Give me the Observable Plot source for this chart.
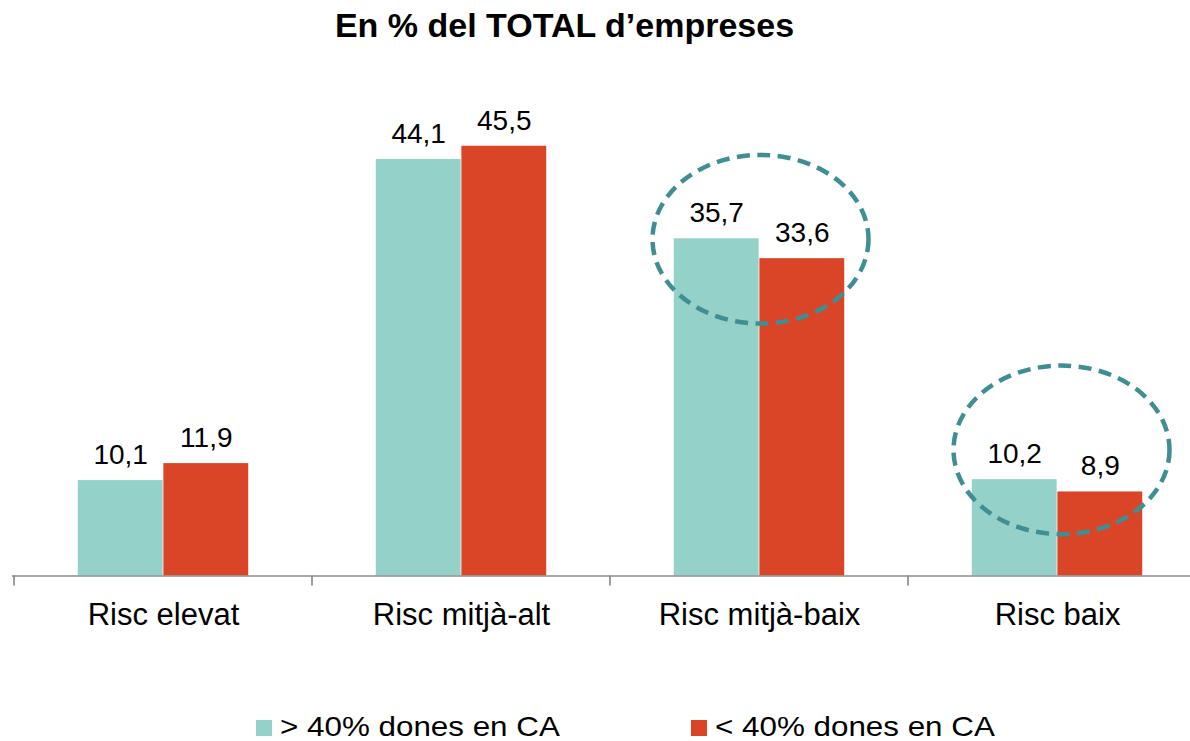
<!DOCTYPE html>
<html><head><meta charset="utf-8">
<script src="https://cdn.jsdelivr.net/npm/d3@7"></script>
<script src="https://cdn.jsdelivr.net/npm/@observablehq/plot@0.6"></script>
<style>
body{margin:0;background:#fff;font-family:"Liberation Sans",Arial,sans-serif;}
#title{width:1129px;height:50px;line-height:50px;text-align:center;font-weight:bold;font-size:34px;color:#000;white-space:nowrap}
#chart{height:650px}
#legend{position:relative;height:41px;width:1190px}
.sw{position:absolute;top:20px;width:16px;height:16px}
.lt{position:absolute;top:12.8px;font-size:28px;line-height:28px;color:#000;white-space:nowrap;transform:scaleX(1.12);transform-origin:left center}
</style></head><body>
<div id="title">En % del TOTAL d’empreses</div>
<div id="chart"></div>
<div id="legend"></div>
<script>
// ---- data ----
const categories = ["Risc elevat", "Risc mitjà-alt", "Risc mitjà-baix", "Risc baix"];
const seriesNames = ["> 40% dones en CA", "< 40% dones en CA"];
const valuesHigh = [10.1, 44.1, 35.7, 10.2];   // > 40% dones en CA
const valuesLow  = [11.9, 45.5, 33.6, 8.9];    // < 40% dones en CA
const highlightedCats = ["Risc mitjà-baix", "Risc baix"];
const highlightCenterValues = [35.6, 13.3];

// ---- styles ----
const colors = ["#94D1C9", "#DA4528"];
const fontFamily = '"Liberation Sans", Arial, sans-serif';
const W = 1190, H = 650;
const xRange = [12, 1207];
const bw = (xRange[1] - xRange[0]) / categories.length;
const barW = 85.6;
const fmt = d => d.toFixed(1).replace(".", ",");

const dataHigh = categories.map((c, i) => ({cat: c, value: valuesHigh[i]}));
const dataLow = categories.map((c, i) => ({cat: c, value: valuesLow[i]}));

const svg = Plot.plot({
  width: W,
  height: H,
  marginLeft: xRange[0],
  marginRight: 0,
  marginTop: 53.25,
  marginBottom: 124.5,
  style: {fontFamily, background: "#fff", overflow: "visible"},
  x: {domain: categories, range: xRange, padding: 0, axis: null},
  y: {domain: [0, 50], axis: null},
  marks: [
    Plot.barY(dataHigh, {x: "cat", y: "value", fill: colors[0], insetLeft: bw / 2 - barW, insetRight: bw / 2}),
    Plot.barY(dataLow, {x: "cat", y: "value", fill: colors[1], insetLeft: bw / 2, insetRight: bw / 2 - barW}),
    Plot.ruleY([0], {stroke: "#8c8c8c", strokeWidth: 1.7}),
    Plot.text(dataHigh, {x: "cat", y: "value", text: d => fmt(d.value), dx: -barW / 2, dy: -25.5, fontSize: 28, fill: "#000"}),
    Plot.text(dataLow, {x: "cat", y: "value", text: d => fmt(d.value), dx: barW / 2, dy: -25.5, fontSize: 28, fill: "#000"}),
    Plot.text(categories, {x: d => d, y: () => 0, text: d => d, dy: 38.6, fontSize: 31, fill: "#000"})
  ]
});

// axis ticks at category boundaries + dashed highlight ellipses, placed via the plot's scales
const xs = svg.scale("x"), ys = svg.scale("y");
const g = d3.select(svg).append("g");
const y0 = ys.apply(0);
categories.forEach(c => {
  const x = xs.apply(c);
  g.append("line").attr("x1", x).attr("x2", x).attr("y1", y0).attr("y2", y0 + 10)
    .attr("stroke", "#8c8c8c").attr("stroke-width", 1.7);
});
const ellipseDx = [1.5, 4.5];
highlightedCats.forEach((c, i) => {
  g.append("ellipse")
    .attr("cx", xs.apply(c) + xs.bandwidth / 2 + ellipseDx[i])
    .attr("cy", ys.apply(highlightCenterValues[i]))
    .attr("rx", 108).attr("ry", 84.3)
    .attr("fill", "none").attr("stroke", "#3E8E93")
    .attr("stroke-width", 4.5).attr("stroke-dasharray", "13 7.5");
});
document.getElementById("chart").appendChild(svg);

// legend
const legend = document.getElementById("legend");
const swX = [256, 691], txX = [280, 715];
seriesNames.forEach((name, i) => {
  const sw = document.createElement("div");
  sw.className = "sw"; sw.style.left = swX[i] + "px"; sw.style.background = colors[i];
  legend.appendChild(sw);
  const t = document.createElement("span");
  t.className = "lt"; t.style.left = txX[i] + "px"; t.textContent = name;
  legend.appendChild(t);
});
</script>
</body></html>
